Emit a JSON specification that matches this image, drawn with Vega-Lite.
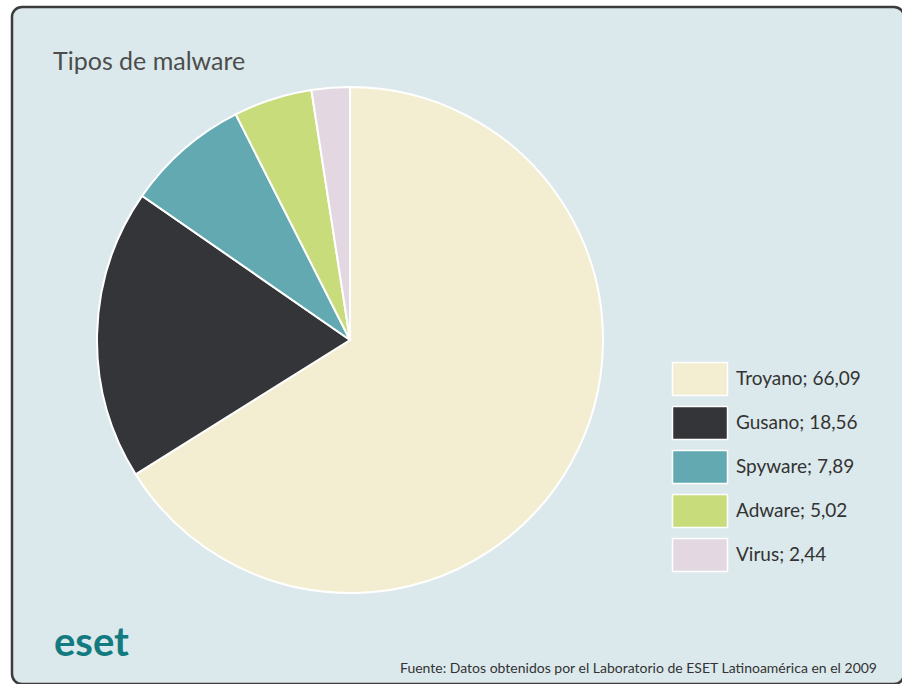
{
  "$schema": "https://vega.github.io/schema/vega-lite/v6.json",
  "width": 892,
  "height": 677,
  "autosize": {"type": "none"},
  "padding": {"left": 12, "top": 7, "right": 0, "bottom": 0},
  "background": "#ffffff",
  "view": {"fill": "#dbe9ec", "stroke": "#3c3c3c", "strokeWidth": 2.5, "cornerRadius": 10},
  "config": {
    "view": {"fill": "#dbe9ec", "stroke": "#3c3c3c", "strokeWidth": 2.5, "cornerRadius": 10},
    "font": "Lato"
  },
  "title": {
    "text": "Tipos de malware",
    "anchor": "start",
    "frame": "group",
    "orient": "top",
    "offset": -88,
    "dx": 41,
    "baseline": "alphabetic",
    "font": "Lato",
    "fontSize": 25,
    "fontWeight": "normal",
    "color": "#4d4d4d"
  },
  "layer": [
    {
      "data": {
        "values": [
          {"tipo": "Troyano", "valor": 66.09, "orden": 1, "etiqueta": "Troyano; 66,09"},
          {"tipo": "Gusano", "valor": 18.56, "orden": 2, "etiqueta": "Gusano; 18,56"},
          {"tipo": "Spyware", "valor": 7.89, "orden": 3, "etiqueta": "Spyware; 7,89"},
          {"tipo": "Adware", "valor": 5.02, "orden": 4, "etiqueta": "Adware; 5,02"},
          {"tipo": "Virus", "valor": 2.44, "orden": 5, "etiqueta": "Virus; 2,44"}
        ]
      },
      "mark": {"type": "arc", "radius": 253, "x": 338, "y": 333, "stroke": "#ffffff", "strokeWidth": 2},
      "encoding": {
        "theta": {"field": "valor", "type": "quantitative", "stack": true},
        "order": {"field": "orden", "type": "quantitative"},
        "color": {
          "field": "etiqueta",
          "type": "nominal",
          "scale": {
            "domain": ["Troyano; 66,09", "Gusano; 18,56", "Spyware; 7,89", "Adware; 5,02", "Virus; 2,44"],
            "range": ["#f3eed2", "#343538", "#62a9b1", "#c8dc7c", "#e3d8e2"]
          },
          "legend": {
            "title": null,
            "orient": "none",
            "legendX": 666,
            "legendY": 350,
            "symbolType": "M-1.3,-0.78H1.3V0.78H-1.3Z",
            "symbolSize": 1790,
            "symbolStrokeColor": "#ffffff",
            "symbolStrokeWidth": 1.5,
            "symbolOpacity": 1,
            "rowPadding": 2,
            "labelOffset": 14,
            "labelFont": "Lato",
            "labelFontSize": 19,
            "labelColor": "#333333",
            "labelLimit": 300
          }
        }
      }
    },
    {
      "data": {"values": [{"fuente": "Fuente: Datos obtenidos por el Laboratorio de ESET Latinoamérica en el 2009"}]},
      "mark": {"type": "text", "x": {"expr": "width - 27"}, "y": {"expr": "height - 11"}, "align": "right", "baseline": "alphabetic", "font": "Lato", "fontSize": 14, "color": "#333333"},
      "encoding": {"text": {"field": "fuente"}}
    },
    {
      "data": {"values": [{"logo": "eset"}]},
      "mark": {"type": "text", "x": 42, "y": {"expr": "height - 28"}, "align": "left", "baseline": "alphabetic", "font": "Lato", "fontSize": 40, "fontWeight": "bold", "color": "#137b80"},
      "encoding": {"text": {"field": "logo"}}
    }
  ]
}
